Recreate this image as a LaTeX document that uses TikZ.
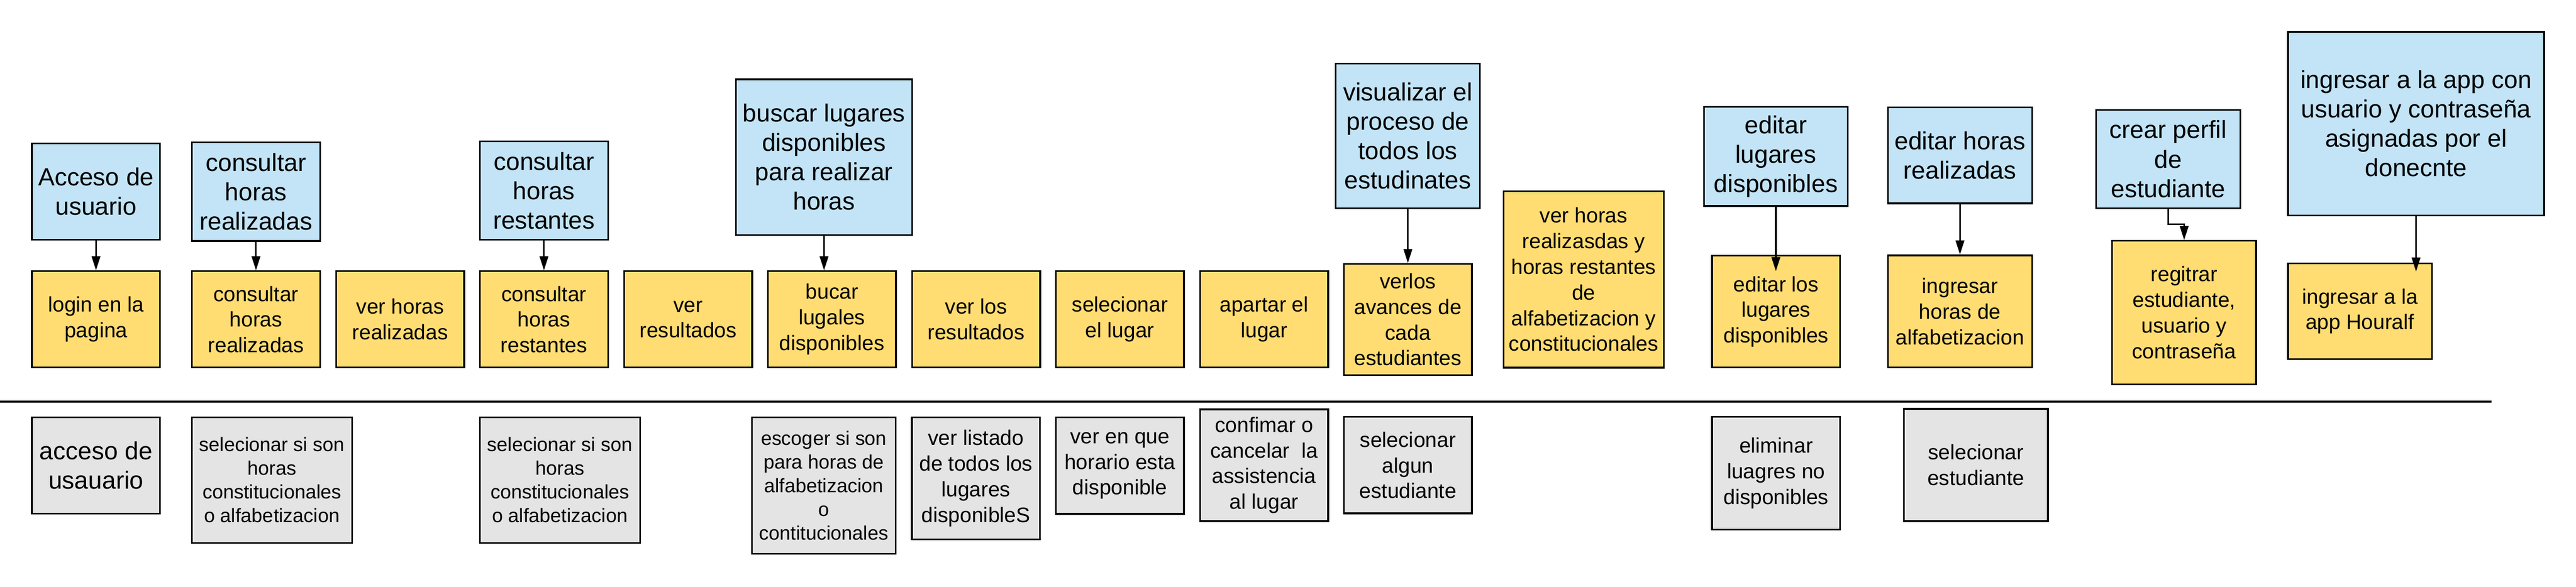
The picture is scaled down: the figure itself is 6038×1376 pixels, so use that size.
\documentclass[tikz,border=0pt]{standalone}
\usepackage{fontspec}
\setmainfont{Liberation Sans}
\usetikzlibrary{arrows.meta}

\definecolor{azul}{RGB}{194,228,246}
\definecolor{amarillo}{RGB}{255,221,115}
\definecolor{gris}{RGB}{228,228,228}

\begin{document}
\begin{tikzpicture}[x=0.01cm, y=-0.01cm, line width=1.1pt,
  >={Triangle[length=9.4pt,width=5.7pt]},
  actividad/.style={draw, fill=azul, align=center, inner sep=1pt, minimum width=3cm, minimum height=2.3cm, font=\fontsize{16.5}{19.6}\selectfont},
  tarea/.style={draw, fill=amarillo, align=center, inner sep=1pt, minimum width=3cm, minimum height=2.26cm, font=\fontsize{14}{17.1}\selectfont},
  detalle/.style={draw, fill=gris, align=center, inner sep=1pt, minimum width=3cm, minimum height=2.26cm, font=\fontsize{14}{17.1}\selectfont},
  chica/.style={font=\fontsize{13}{15.8}\selectfont},
  grande/.style={font=\fontsize{16.5}{19.6}\selectfont}]

\useasboundingbox (0,0) rectangle (6038,1376);

%activities
\node [actividad, minimum height=2.26cm] (acceso) at (225,449) {Acceso de\\usuario};
\node [actividad, minimum height=2.31cm] (consreal) at (600,449.5) {consultar\\horas\\realizadas};
\node [actividad, minimum height=2.31cm] (consrest) at (1275,447) {consultar\\horas\\restantes};
\node [actividad, minimum width=4.13cm, minimum height=3.65cm] (buscar) at (1931.5,368.5) {buscar lugares\\disponibles\\para realizar\\horas};
\node [actividad, minimum width=3.38cm, minimum height=3.39cm] (visualizar) at (3300,318.5) {visualizar el\\proceso de\\todos los\\estudinates};
\node [actividad, minimum width=3.37cm, minimum height=2.32cm] (editlug) at (4162.5,367) {editar\\lugares\\disponibles};
\node [actividad, minimum width=3.38cm, minimum height=2.25cm] (edithoras) at (4594,364.5) {editar horas\\realizadas};
\node [actividad, minimum width=3.38cm] (crear) at (5082,373) {crear perfil\\de\\estudiante};
\node [actividad, minimum width=6cm, minimum height=4.3cm] (ingresar) at (5663,290) {ingresar a la app con\\usuario y contraseña\\asignadas por el\\donecnte};

%tasks
\node [tarea] (login) at (225,749) {login en la\\pagina};
\node [tarea] (consrealt) at (600,749) {consultar\\horas\\realizadas};
\node [tarea] (verreal) at (938,749) {ver horas\\realizadas};
\node [tarea] (consrestt) at (1275,749) {consultar\\horas\\restantes};
\node [tarea] (verres) at (1613,749) {ver\\resultados};
\node [tarea] (bucar) at (1950,749) {bucar\\lugales\\disponibles};
\node [tarea] (verlos) at (2288,749) {ver los\\resultados};
\node [tarea] (selec) at (2625,749) {selecionar\\el lugar};
\node [tarea] (apartar) at (2963,749) {apartar el\\lugar};
\node [tarea, minimum height=2.61cm] (avances) at (3300,749.5) {verlos\\avances de\\cada\\estudiantes};
\node [tarea, minimum width=3.76cm, minimum height=4.13cm] (verhoras) at (3712,655.5) {ver horas\\realizasdas y\\horas restantes\\de\\alfabetizacion y\\constitucionales};
\node [tarea, minimum height=2.62cm] (editlos) at (4163,731) {editar los\\lugares\\disponibles};
\node [tarea, minimum width=3.38cm, minimum height=2.63cm] (inghoras) at (4594,730.5) {ingresar\\horas de\\alfabetizacion};
\node [tarea, minimum width=3.37cm, minimum height=3.36cm] (regitrar) at (5119.5,733) {regitrar\\estudiante,\\usuario y\\contraseña};
\node [tarea, minimum width=3.37cm, minimum height=2.24cm] (houralf) at (5531.5,730) {ingresar a la\\app Houralf};

%separator
\coordinate (lineaini) at (0,942);
\coordinate (lineafin) at (5840,942);
\draw (lineaini) -- (lineafin);

%details
\node [detalle, grande] (accesod) at (225,1091.5) {acceso de\\usauario};
\node [detalle, chica, minimum width=3.75cm, minimum height=2.94cm] (selsi) at (637.5,1126) {selecionar si son\\horas\\constitucionales\\o alfabetizacion};
\node [detalle, chica, minimum width=3.75cm, minimum height=2.94cm] (selsib) at (1312.5,1126) {selecionar si son\\horas\\constitucionales\\o alfabetizacion};
\node [detalle, chica, minimum width=3.36cm, minimum height=3.2cm] (escoger) at (1931,1139) {escoger si son\\para horas de\\alfabetizacion\\o\\contitucionales};
\node [detalle, minimum height=2.86cm] (listado) at (2287.5,1122) {ver listado\\de todos los\\lugares\\disponibleS};
\node [detalle] (horario) at (2625,1092) {ver en que\\horario esta\\disponible};
\node [detalle, minimum height=2.62cm] (confimar) at (2963,1091) {confimar o\\cancelar\ \ la\\assistencia\\al lugar};
\node [detalle] (algun) at (3300,1091) {selecionar\\algun\\estudiante};
\node [detalle, minimum height=2.64cm] (eliminar) at (4163,1110) {eliminar\\luagres no\\disponibles};
\node [detalle, minimum width=3.37cm, minimum height=2.63cm] (selest) at (4631.5,1090.5) {selecionar\\estudiante};

%arrows
\coordinate (editlugfin) at (4162.5,636);
\coordinate (codo) at (5119.5,526);
\coordinate (houralffin) at (5663,637);

\draw [->] (acceso) -- (login);
\draw [->] (consreal) -- (consrealt);
\draw [->] (consrest) -- (consrestt);
\draw [->] (buscar.south) -- (buscar.south |- bucar.north);
\draw [->] (visualizar) -- (avances);
\draw [->] (editlug) -- (editlugfin);
\draw [->] (edithoras) -- (inghoras);
\draw [->] (crear.south) |- (codo) -- (regitrar.north);
\draw [->] (ingresar) -- (houralffin);

\end{tikzpicture}
\end{document}
